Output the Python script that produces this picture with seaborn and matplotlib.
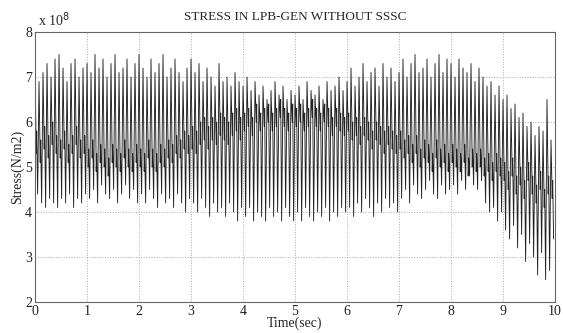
import numpy as np
import pandas as pd
import seaborn as sns
import matplotlib.pyplot as plt

# values in units of 1e8 N/m2, one entry per oscillation cycle (13 cycles per second)
peaks = [7.2, 6.9, 7.1, 7.3, 7.0, 7.4, 7.5, 7.2, 6.9, 7.3, 7.4, 7.0, 7.2,
         7.3, 7.1, 7.5, 7.2, 7.4, 7.0, 7.3, 7.5, 7.1, 7.2, 7.4, 7.0, 7.3,
         7.5, 7.2, 7.0, 7.4, 7.1, 7.3, 7.5, 7.0, 7.2, 7.4, 7.1, 6.9, 7.2,
         7.4, 7.1, 7.3, 6.9, 7.2, 7.0, 6.8, 7.3, 6.9, 7.0, 6.8, 7.1, 6.9,
         6.8, 7.0, 6.7, 6.9, 6.6, 6.8, 6.5, 6.7, 6.9, 6.6, 6.8, 6.5, 6.7,
         6.6, 6.8, 6.5, 6.9, 6.7, 6.6, 6.8, 6.5, 6.9, 6.7, 6.8, 7.0, 6.7,
         6.9, 7.2, 6.8, 7.0, 7.3, 6.9, 7.1, 7.2, 6.8, 7.3, 7.0, 7.2, 6.9,
         7.1, 7.4, 7.0, 7.3, 7.5, 7.1, 7.2, 7.4, 7.0, 7.3, 7.5, 7.1, 7.4,
         7.3, 7.0, 7.4, 7.2, 7.1, 7.3, 6.9, 7.2, 7.0, 6.8, 6.9, 6.6, 6.8,
         6.5, 6.6, 6.3, 6.4, 6.1, 6.2, 5.9, 6.0, 5.7, 5.9, 5.8, 6.5, 5.6]

mid_lo = [5.3, 5.1, 5.4, 5.2, 5.5, 5.3, 5.2, 5.4, 5.1, 5.3, 5.5, 5.2, 5.3,
          5.0, 5.2, 4.9, 5.1, 5.0, 4.8, 5.1, 5.0, 4.9, 5.2, 5.0, 4.9, 5.1,
          5.0, 4.9, 5.2, 5.0, 4.9, 5.1, 5.0, 5.2, 5.1, 5.3, 5.2, 5.4, 5.3,
          5.4, 5.3, 5.5, 5.6, 5.4, 5.6, 5.5, 5.7, 5.6, 5.5, 5.7, 5.8, 5.6,
          5.8, 5.9, 5.7, 6.0, 5.8, 5.9, 6.0, 5.8, 5.9, 6.1, 5.9, 5.8, 6.0,
          5.9, 6.0, 5.8, 5.9, 6.1, 5.9, 5.8, 6.0, 5.9, 5.7, 5.9, 5.8, 5.7,
          5.8, 5.6, 5.7, 5.5, 5.7, 5.6, 5.4, 5.6, 5.5, 5.3, 5.5, 5.4, 5.3,
          5.4, 5.2, 5.3, 5.1, 5.3, 5.0, 5.2, 5.1, 4.9, 5.2, 5.0, 5.1, 4.9,
          5.1, 5.0, 4.9, 5.1, 4.8, 5.0, 4.9, 5.0, 4.8, 4.9, 4.7, 4.9, 4.8,
          4.7, 4.5, 4.8, 4.4, 4.6, 4.3, 4.7, 4.4, 4.2, 4.5, 4.1, 4.4, 4.3]

mid_hi = [5.8, 5.6, 5.9, 5.7, 6.0, 5.7, 5.6, 5.8, 5.5, 5.7, 5.9, 5.6, 5.7,
          5.4, 5.6, 5.3, 5.5, 5.4, 5.2, 5.5, 5.4, 5.3, 5.6, 5.4, 5.3, 5.5,
          5.4, 5.3, 5.6, 5.4, 5.3, 5.5, 5.4, 5.6, 5.5, 5.7, 5.6, 5.8, 5.7,
          5.9, 5.8, 6.0, 6.1, 5.9, 6.1, 6.0, 6.2, 6.1, 6.0, 6.2, 6.3, 6.1,
          6.2, 6.3, 6.1, 6.4, 6.2, 6.3, 6.4, 6.2, 6.3, 6.5, 6.3, 6.2, 6.4,
          6.3, 6.4, 6.2, 6.3, 6.5, 6.3, 6.2, 6.4, 6.3, 6.1, 6.3, 6.2, 6.1,
          6.2, 6.0, 6.1, 5.9, 6.1, 6.0, 5.8, 6.0, 5.9, 5.8, 5.9, 5.8, 5.7,
          5.8, 5.6, 5.7, 5.5, 5.7, 5.4, 5.6, 5.5, 5.3, 5.6, 5.4, 5.5, 5.3,
          5.5, 5.4, 5.3, 5.5, 5.2, 5.4, 5.3, 5.4, 5.2, 5.3, 5.1, 5.3, 5.2,
          5.1, 4.9, 5.2, 4.8, 5.0, 4.7, 5.1, 4.8, 4.6, 4.9, 4.5, 4.8, 4.7]

troughs = [4.4, 4.2, 4.1, 4.3, 4.2, 4.1, 4.3, 4.2, 4.4, 4.1, 4.3, 4.2, 4.4,
           4.3, 4.5, 4.2, 4.6, 4.4, 4.3, 4.5, 4.2, 4.4, 4.6, 4.3, 4.5, 4.2,
           4.4, 4.2, 4.5, 4.3, 4.1, 4.4, 4.2, 4.3, 4.1, 4.4, 4.2, 4.0, 4.3,
           4.2, 4.0, 4.3, 4.1, 3.9, 4.2, 4.0, 4.1, 3.9, 4.2, 4.0, 3.8, 4.1,
           3.9, 4.1, 3.8, 4.0, 3.9, 3.8, 4.1, 3.9, 4.0, 3.8, 4.1, 3.9, 3.8,
           4.0, 3.8, 4.1, 3.9, 3.8, 4.0, 3.9, 4.1, 3.8, 4.0, 3.9, 4.1, 4.0,
           4.1, 3.9, 4.2, 4.0, 4.3, 4.1, 3.9, 4.2, 4.0, 4.3, 4.1, 4.2, 4.0,
           4.3, 4.5, 4.2, 4.6, 4.4, 4.3, 4.5, 4.7, 4.4, 4.3, 4.6, 4.4, 4.5,
           4.6, 4.4, 4.7, 4.5, 4.8, 4.6, 4.5, 4.7, 4.2, 4.0, 4.1, 3.8, 4.0,
           3.6, 3.4, 3.7, 3.2, 3.5, 2.9, 3.3, 3.0, 2.6, 3.1, 2.5, 2.7, 3.4]

# sample order inside one cycle: peak -> shoulder low -> shoulder high -> trough
n = len(peaks)
period = 10.0 / n
phase = [0.0, 0.3, 0.42, 0.65]

t, s = [], []
for k in range(n):
    for ph, v in zip(phase, [peaks[k], mid_lo[k], mid_hi[k], troughs[k]]):
        t.append((k + ph) * period)
        s.append(v)

df = pd.DataFrame({"Time": t, "Stress": s})

sns.set_style("white")
plt.rcParams["font.family"] = ["Liberation Serif", "DejaVu Serif"]

fig = plt.figure(figsize=(5.63, 3.33), dpi=100)
ax = fig.add_axes([0.0622, 0.0931, 0.9236, 0.8108])
sns.lineplot(data=df, x="Time", y="Stress", ax=ax, color="#222222",
             linewidth=0.65, estimator=None, sort=False)

ax.set_xlim(0, 10)
ax.set_ylim(2, 8)
ax.set_xticks(range(0, 11))
ax.set_yticks(range(2, 9))
ax.grid(True, linestyle=":", color="#aaaaaa", linewidth=0.7)
ax.tick_params(direction="in", length=3, labelsize=10, colors="#222222", pad=2)
for sp in ax.spines.values():
    sp.set_color("#666666")
    sp.set_linewidth(0.8)

ax.set_title("STRESS IN LPB-GEN WITHOUT SSSC", fontsize=9.5, pad=9)
ax.set_xlabel("Time(sec)", fontsize=10, labelpad=-1)
ax.set_ylabel("Stress(N/m2)", fontsize=10, labelpad=1)
ax.text(0.005, 1.01, "x 10$^{8}$", transform=ax.transAxes, fontsize=10,
        ha="left", va="bottom")

fig.savefig("out.png", dpi=100)
